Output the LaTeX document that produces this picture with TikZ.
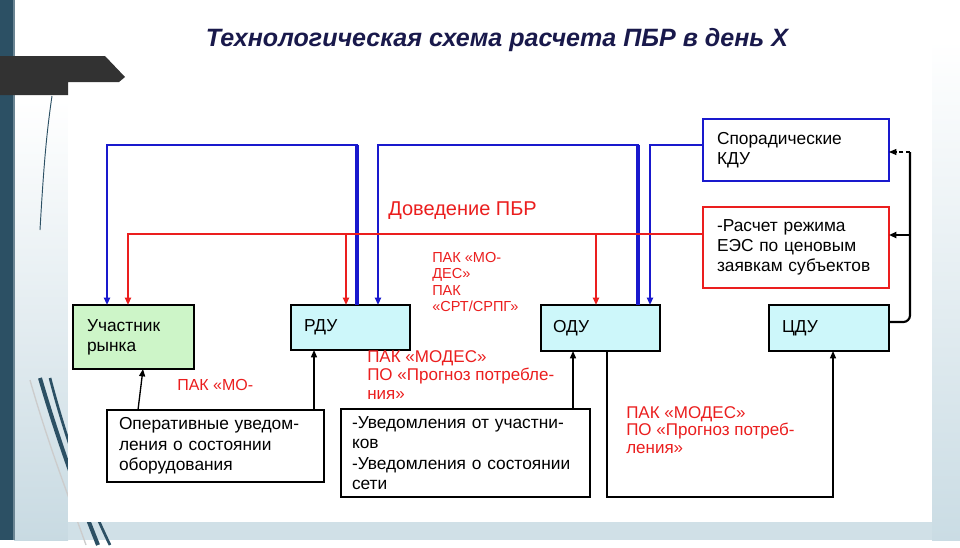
\documentclass[tikz,border=0pt]{standalone}
\usepackage{fontspec}
\setmainfont{Liberation Sans}
\usetikzlibrary{arrows.meta,calc}
\definecolor{bl}{RGB}{25,25,205}
\definecolor{rd}{RGB}{235,30,30}
\definecolor{gr}{RGB}{205,245,200}
\definecolor{cy}{RGB}{205,247,250}
\definecolor{navy}{RGB}{25,25,75}
\definecolor{slidebar}{RGB}{44,80,100}
\definecolor{tabgray}{RGB}{50,50,50}
\definecolor{margin}{RGB}{200,218,226}
\definecolor{rmargin}{RGB}{202,220,228}
\definecolor{bmargin}{RGB}{208,224,231}
\begin{document}
\begin{tikzpicture}[x=0.75pt,y=-0.75pt,
  box/.style={draw=black, line width=2.2pt, anchor=north west, align=left,
    outer sep=0pt, inner ysep=0pt, font=\fontsize{13}{15.2}\selectfont},
  thinbox/.style={box, line width=0.9pt, fill=white},
  lab/.style={text=rd, align=left, inner sep=0pt, anchor=west},
  tip/.style={-{Triangle[length=5.5pt,width=4.5pt]}},
  bline/.style={draw=bl, line width=1.9pt, tip},
  rline/.style={draw=rd, line width=1.5pt, tip},
  kline/.style={draw=black, line width=1pt, tip}]
% ---------- slide background ----------
\fill[white] (0,0) rectangle (960,540);
\shade[top color=white, bottom color=margin] (14,100) rectangle (68,540);
\shade[top color=white, bottom color=rmargin] (932,40) rectangle (960,540);
\fill[bmargin] (68,522) rectangle (932,540);
\draw[slidebar, line width=3pt] (40,378) .. controls (58,440) and (80,500) .. (98,545);
\draw[slidebar, line width=2pt] (50,378) .. controls (66,440) and (88,500) .. (110,545);
\draw[gray!40, line width=1pt] (30,380) .. controls (50,450) and (70,500) .. (86,545);
\draw[slidebar, line width=0.7pt] (52,96) .. controls (47,130) and (44,160) .. (40,230);
\fill[white] (68,80) rectangle (932,522);
\fill[slidebar] (0,0) rectangle (13,540);
\fill[slidebar!70] (13,0) rectangle (15,540);
\fill[tabgray] (0,56) -- (105,56) -- (125,77) -- (119,82) -- (68,82) -- (68,95) -- (0,95) -- cycle;
% ---------- title ----------
\node[text=navy, font=\fontsize{18.8}{22}\selectfont\bfseries\itshape] (title) at (497,40)
  {Технологическая схема расчета ПБР в день Х};
% ---------- boxes ----------
\node[box, fill=gr, minimum width=90.75pt, minimum height=48pt, inner xsep=10.5pt, text width=69.75pt]
  (uch) at (73,305) {Участник\\рынка};
\node[box, fill=cy, minimum width=89.25pt, minimum height=33.75pt, inner xsep=9.75pt, text width=69.75pt]
  (rdu) at (291,305) {РДУ};
\node[box, fill=cy, minimum width=89.25pt, minimum height=34.5pt, inner xsep=9pt, text width=71.25pt]
  (odu) at (541,305) {ОДУ};
\node[box, fill=cy, minimum width=90pt, minimum height=34.5pt, inner xsep=9.75pt, text width=70.5pt]
  (cdu) at (769,305) {ЦДУ};
\node[box, draw=bl, line width=1.5pt, fill=white, minimum width=139.5pt, minimum height=46.5pt,
  inner xsep=10.5pt, text width=118.5pt] (spor) at (703,119) {Спорадические\\КДУ};
\node[box, draw=rd, line width=1.5pt, fill=white, minimum width=139.5pt, minimum height=60.75pt,
  inner xsep=10.5pt, text width=118.5pt] (calc) at (703,207)
  {\mbox{-Расчет режима}\\\mbox{ЕЭС по ценовым}\\\mbox{заявкам субъектов}};
\node[thinbox, minimum width=162.75pt, minimum height=54pt, inner xsep=9pt, text width=144.75pt]
  (oper) at (107,410) {\mbox{Оперативные уведом-}\\\mbox{ления о состоянии}\\оборудования};
\node[thinbox, minimum width=186.75pt, minimum height=66pt, inner xsep=8.25pt, text width=170.25pt]
  (notif) at (341,409) {\mbox{-Уведомления от участни-}\\ков\\\mbox{-Уведомления о состоянии}\\сети};
% ---------- red labels ----------
\node[lab, anchor=base west, font=\fontsize{15}{18}\selectfont] (dov) at (388,215) {Доведение ПБР};
\node[lab, font=\fontsize{10.9}{12.2}\selectfont] (pak1) at (432,282)
  {ПАК «МО-\\ДЕС»\\ПАК\\«СРТ/СРПГ»};
\node[lab, font=\fontsize{12}{14}\selectfont] (pak2) at (177,385) {ПАК «МО-};
\node[lab, font=\fontsize{12.75}{14.2}\selectfont] (pak3) at (367,375)
  {ПАК «МОДЕС»\\ПО «Прогноз потребле-\\ния»};
\node[lab, font=\fontsize{12.75}{13.2}\selectfont] (pak4) at (626,430)
  {ПАК «МОДЕС»\\ПО «Прогноз потреб-\\ления»};
% ---------- blue connectors ----------
\draw[bline] ($(rdu.north west)+(66,0)$) -- ++(0,-160) -| ($(uch.north west)+(34,0)$);
\draw[draw=bl, line width=3pt] ($(rdu.north west)+(66,0)$) -- ++(0,-160);
\draw[bline] ($(odu.north west)+(97,0)$) -- ++(0,-160) -| ($(rdu.north west)+(87,0)$);
\draw[draw=bl, line width=3pt] ($(odu.north west)+(97,0)$) -- ++(0,-160);
\draw[bline] ($(spor.north west)+(0,26)$) -| ($(odu.north west)+(109,0)$);
% ---------- red connectors ----------
\draw[rline] ($(calc.north west)+(0,27)$) -| ($(uch.north west)+(55,0)$);
\draw[rline] ($(rdu.north west)+(55,-71)$) -- ($(rdu.north west)+(55,0)$);
\draw[rline] ($(odu.north west)+(55,-71)$) -- ($(odu.north west)+(55,0)$);
% ---------- black connectors ----------
\draw[black, line width=1.6pt, rounded corners=5pt] ($(cdu.north east)+(0,17)$) -- ++(21,0) -- ++(0,-170) coordinate (ktop);
\draw[kline, line width=0.8pt, densely dashed] (ktop) -- ($(spor.north east)+(0,33)$);
\draw[kline, line width=1.8pt] ($(calc.north east)+(21,28)$) -- ($(calc.north east)+(0,28)$);
\draw[kline] ($(oper.north west)+(31,0)$) -- ($(uch.south west)+(70,0)$);
\draw[kline] ($(oper.north west)+(207,0)$) -- ($(rdu.south west)+(23,0)$);
\draw[kline] ($(notif.north west)+(232,0)$) -- ($(odu.south west)+(32,0)$);
\draw[kline, line width=0.9pt] ($(odu.south west)+(66,0)$) -- ++(0,146) -| ($(cdu.south west)+(64,0)$);
\end{tikzpicture}
\end{document}
